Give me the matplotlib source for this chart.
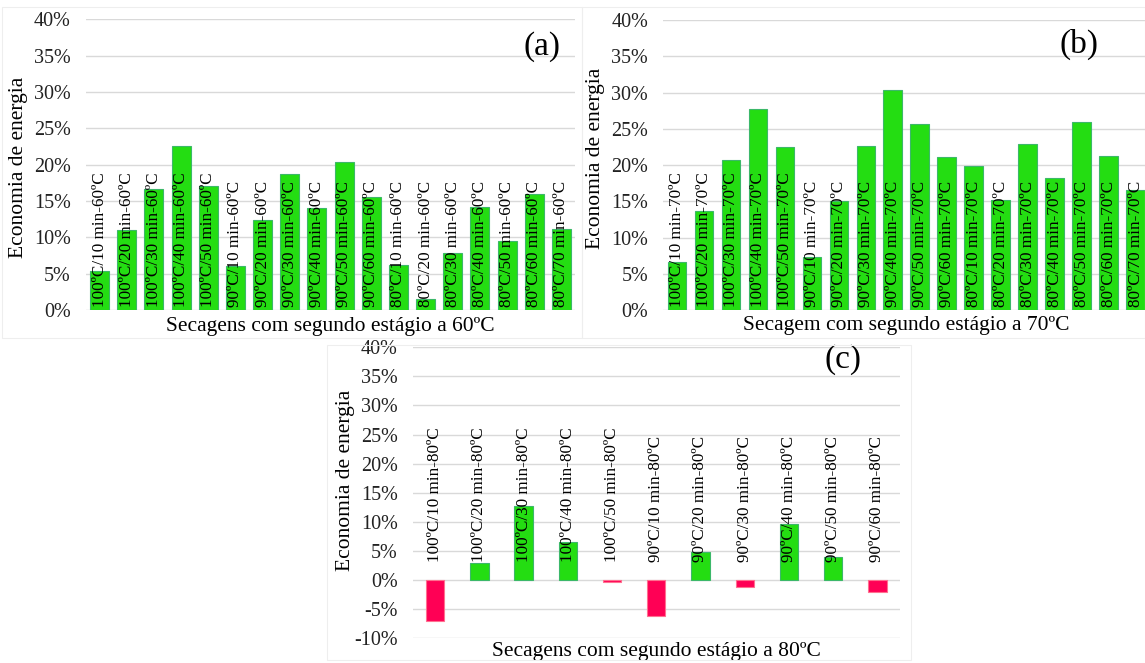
import matplotlib
matplotlib.use("Agg")
import matplotlib.pyplot as plt
from matplotlib.patches import Rectangle
from matplotlib.ticker import PercentFormatter

plt.rcParams['font.family'] = ['Liberation Serif', 'DejaVu Serif']
plt.rcParams['axes.unicode_minus'] = False

# ---- data: energy savings (fraction) per drying schedule ----
labels_60 = ["100ºC/10 min-60ºC", "100ºC/20 min-60ºC", "100ºC/30 min-60ºC",
             "100ºC/40 min-60ºC", "100ºC/50 min-60ºC", "90ºC/10 min-60ºC",
             "90ºC/20 min-60ºC", "90ºC/30 min-60ºC", "90ºC/40 min-60ºC",
             "90ºC/50 min-60ºC", "90ºC/60 min-60ºC", "80ºC/10 min-60ºC",
             "80ºC/20 min-60ºC", "80ºC/30 min-60ºC", "80ºC/40 min-60ºC",
             "80ºC/50 min-60ºC", "80ºC/60 min-60ºC", "80ºC/70 min-60ºC"]
values_60 = [0.054, 0.110, 0.166, 0.226, 0.171, 0.061, 0.124, 0.1875, 0.140,
             0.203, 0.156, 0.062, 0.0155, 0.079, 0.142, 0.095, 0.159, 0.112]

labels_70 = ["100ºC/10 min-70ºC", "100ºC/20 min-70ºC", "100ºC/30 min-70ºC",
             "100ºC/40 min-70ºC", "100ºC/50 min-70ºC", "90ºC/10 min-70ºC",
             "90ºC/20 min-70ºC", "90ºC/30 min-70ºC", "90ºC/40 min-70ºC",
             "90ºC/50 min-70ºC", "90ºC/60 min-70ºC", "80ºC/10 min-70ºC",
             "80ºC/20 min-70ºC", "80ºC/30 min-70ºC", "80ºC/40 min-70ºC",
             "80ºC/50 min-70ºC", "80ºC/60 min-70ºC", "80ºC/70 min-70ºC"]
values_70 = [0.066, 0.136, 0.207, 0.277, 0.225, 0.0735, 0.151, 0.2265, 0.3035,
             0.256, 0.211, 0.1985, 0.152, 0.229, 0.182, 0.2595, 0.213, 0.166]

labels_80 = ["100ºC/10 min-80ºC", "100ºC/20 min-80ºC", "100ºC/30 min-80ºC",
             "100ºC/40 min-80ºC", "100ºC/50 min-80ºC", "90ºC/10 min-80ºC",
             "90ºC/20 min-80ºC", "90ºC/30 min-80ºC", "90ºC/40 min-80ºC",
             "90ºC/50 min-80ºC", "90ºC/60 min-80ºC"]
values_80 = [-0.070, 0.030, 0.128, 0.065, -0.003, -0.061, 0.0475, -0.0115,
             0.097, 0.039, -0.0205]

yticks_pos = [0.0, 0.05, 0.10, 0.15, 0.20, 0.25, 0.30, 0.35, 0.40]
yticks_mixed = [-0.10, -0.05] + yticks_pos

GREEN = '#24dd12'
GREEN_EDGE = '#3cb86a'
RED = '#ff0055'
RED_EDGE = '#ff7090'
GRID = '#d9d9d9'

fig = plt.figure(figsize=(11.45, 6.63), dpi=100)

# faint chart-area frames
for (x0, y0, w, h) in [(0.002, 0.49, 0.506, 0.499), (0.508, 0.49, 0.492, 0.499),
                       (0.286, 0.005, 0.51, 0.475)]:
    fig.patches.append(Rectangle((x0, y0), w, h, transform=fig.transFigure,
                                 fill=False, edgecolor='#eeeeee', linewidth=0.8))


def panel(rect, labels, values, yticks, ylim, label_y, bar_width,
          xlabel, xlabel_y, ylabel_xy, tag, tag_xy):
    ax = fig.add_axes(rect)
    x = list(range(len(values)))
    colors = [GREEN if v >= 0 else RED for v in values]
    edges = [GREEN_EDGE if v >= 0 else RED_EDGE for v in values]
    ax.bar(x, values, width=bar_width, color=colors, edgecolor=edges,
           linewidth=0.8, zorder=2)
    for xi, lab in zip(x, labels):
        ax.text(xi, label_y, lab, rotation=90, ha='center', va='bottom',
                fontsize=12.3, color='black', zorder=3)
    ax.set_xlim(-0.5, len(values) - 0.5)
    ax.set_ylim(*ylim)
    ax.set_yticks(yticks)
    ax.yaxis.set_major_formatter(PercentFormatter(1.0, decimals=0))
    ax.set_xticks([])
    ax.tick_params(axis='y', length=0, pad=11, labelsize=14.5, colors='#222222')
    for s in ax.spines.values():
        s.set_visible(False)
    ax.grid(axis='y', color=GRID, linewidth=1.0, zorder=0)
    ax.set_axisbelow(True)
    ax.text(0.5, xlabel_y, xlabel, transform=ax.transAxes, ha='center',
            va='center', fontsize=15.5)
    ax.text(ylabel_xy[0], ylabel_xy[1], "Economia de energia",
            transform=ax.transAxes, rotation=90, ha='center', va='center',
            fontsize=15.5)
    ax.text(tag_xy[0], tag_xy[1], tag, transform=ax.transAxes, ha='center',
            va='center', fontsize=24)
    return ax


panel([0.0751, 0.5324, 0.4271, 0.4385], labels_60, values_60, yticks_pos,
      (0, 0.40), 0.0045, 0.7, "Secagens com segundo estágio a 60ºC", -0.055,
      (-0.138, 0.492), "(a)", (0.9325, 0.905))

panel([0.5793, 0.5324, 0.4242, 0.4374], labels_70, values_70, yticks_pos,
      (0, 0.40), 0.0045, 0.68, "Secagem com segundo estágio a 70ºC", -0.055,
      (-0.1406, 0.524), "(b)", (0.856, 0.917))

panel([0.3607, 0.0373, 0.4249, 0.4389], labels_80, values_80, yticks_mixed,
      (-0.10, 0.40), 0.031, 0.415, "Secagens com segundo estágio a 80ºC", -0.044,
      (-0.1387, 0.544), "(c)", (0.884, 0.956))

fig.savefig("out.png", dpi=100)
